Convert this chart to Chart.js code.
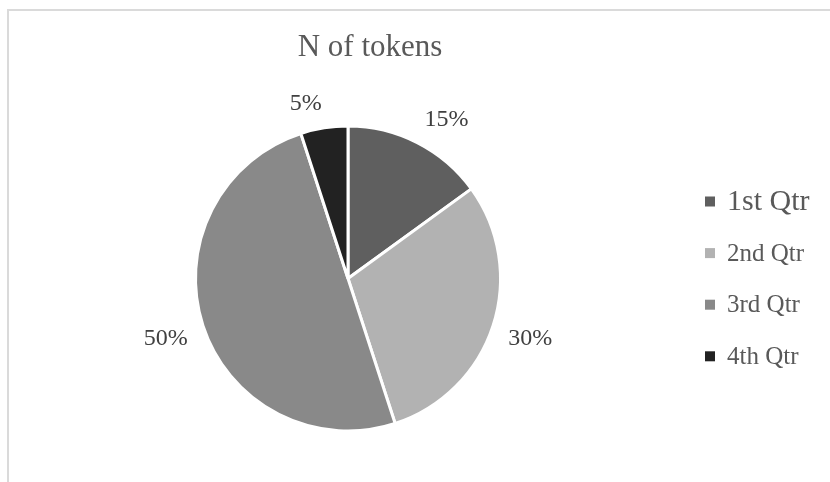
<!DOCTYPE html>
<html>
<head>
<meta charset="utf-8">
<script src="https://cdn.jsdelivr.net/npm/chart.js@4.4.0/dist/chart.umd.min.js"></script>
<style>
  html, body { margin: 0; padding: 0; background: #fff; }
  #wrap { position: relative; width: 830px; height: 482px; overflow: hidden; }
  #frame { position: absolute; left: 7px; top: 9px; width: 900px; height: 600px;
           border-left: 2px solid #dadada; border-top: 2px solid #dadada; }
  canvas { position: absolute; left: 0; top: 0; }
</style>
</head>
<body>
<div id="wrap">
  <div id="frame"></div>
  <canvas id="chart" width="830" height="482"></canvas>
</div>
<script>
const title = "N of tokens";
const categories = ["1st Qtr", "2nd Qtr", "3rd Qtr", "4th Qtr"];
const shares = [15, 30, 50, 5];
const colors = ["#5f5f5f", "#b2b2b2", "#898989", "#222222"];

const serif = '"Liberation Serif", "Times New Roman", serif';

// percentage labels outside each slice, legend and title
const annotate = {
  id: "annotate",
  afterDatasetsDraw(chart) {
    const ctx = chart.ctx;
    const arcs = chart.getDatasetMeta(0).data;
    const total = shares.reduce((a, b) => a + b, 0);

    ctx.save();
    ctx.font = "24px " + serif;
    ctx.fillStyle = "#404040";
    ctx.textAlign = "center";
    ctx.textBaseline = "middle";
    arcs.forEach((arc, i) => {
      const p = arc.getProps(["x", "y", "startAngle", "endAngle", "outerRadius"], true);
      const mid = (p.startAngle + p.endAngle) / 2;
      const ux = Math.cos(mid), uy = Math.sin(mid);
      const text = Math.round(shares[i] / total * 100) + "%";
      const w = ctx.measureText(text).width;
      const r = p.outerRadius + 16;
      // put the nearest corner of the text box on the anchor point
      const cx = p.x + ux * r + Math.sign(ux) * w / 2;
      const cy = p.y + uy * r + Math.sign(uy) * 8.5;
      ctx.fillText(text, cx, cy);
    });

    // title
    ctx.font = "31px " + serif;
    ctx.fillStyle = "#595959";
    ctx.textBaseline = "alphabetic";
    ctx.fillText(title, 370, 56);

    // legend
    ctx.textAlign = "left";
    ctx.textBaseline = "middle";
    categories.forEach((name, i) => {
      const cy = 201.5 + i * 51.6;
      ctx.fillStyle = colors[i];
      ctx.fillRect(705, cy - 5, 10, 10);
      ctx.font = (i === 0 ? "30px " : "25px ") + serif;
      ctx.fillStyle = "#595959";
      ctx.fillText(name, 727, cy + 1);
    });
    ctx.restore();
  }
};

new Chart(document.getElementById("chart"), {
  type: "pie",
  data: {
    labels: categories,
    datasets: [{
      data: shares,
      backgroundColor: colors,
      borderColor: "#ffffff",
      borderWidth: 3
    }]
  },
  options: {
    responsive: false,
    animation: false,
    radius: 152.5,
    layout: { padding: { left: 190, right: 324, top: 120, bottom: 45 } },
    plugins: {
      legend: { display: false },
      title: { display: false },
      tooltip: { enabled: false }
    }
  },
  plugins: [annotate]
});
</script>
</body>
</html>
